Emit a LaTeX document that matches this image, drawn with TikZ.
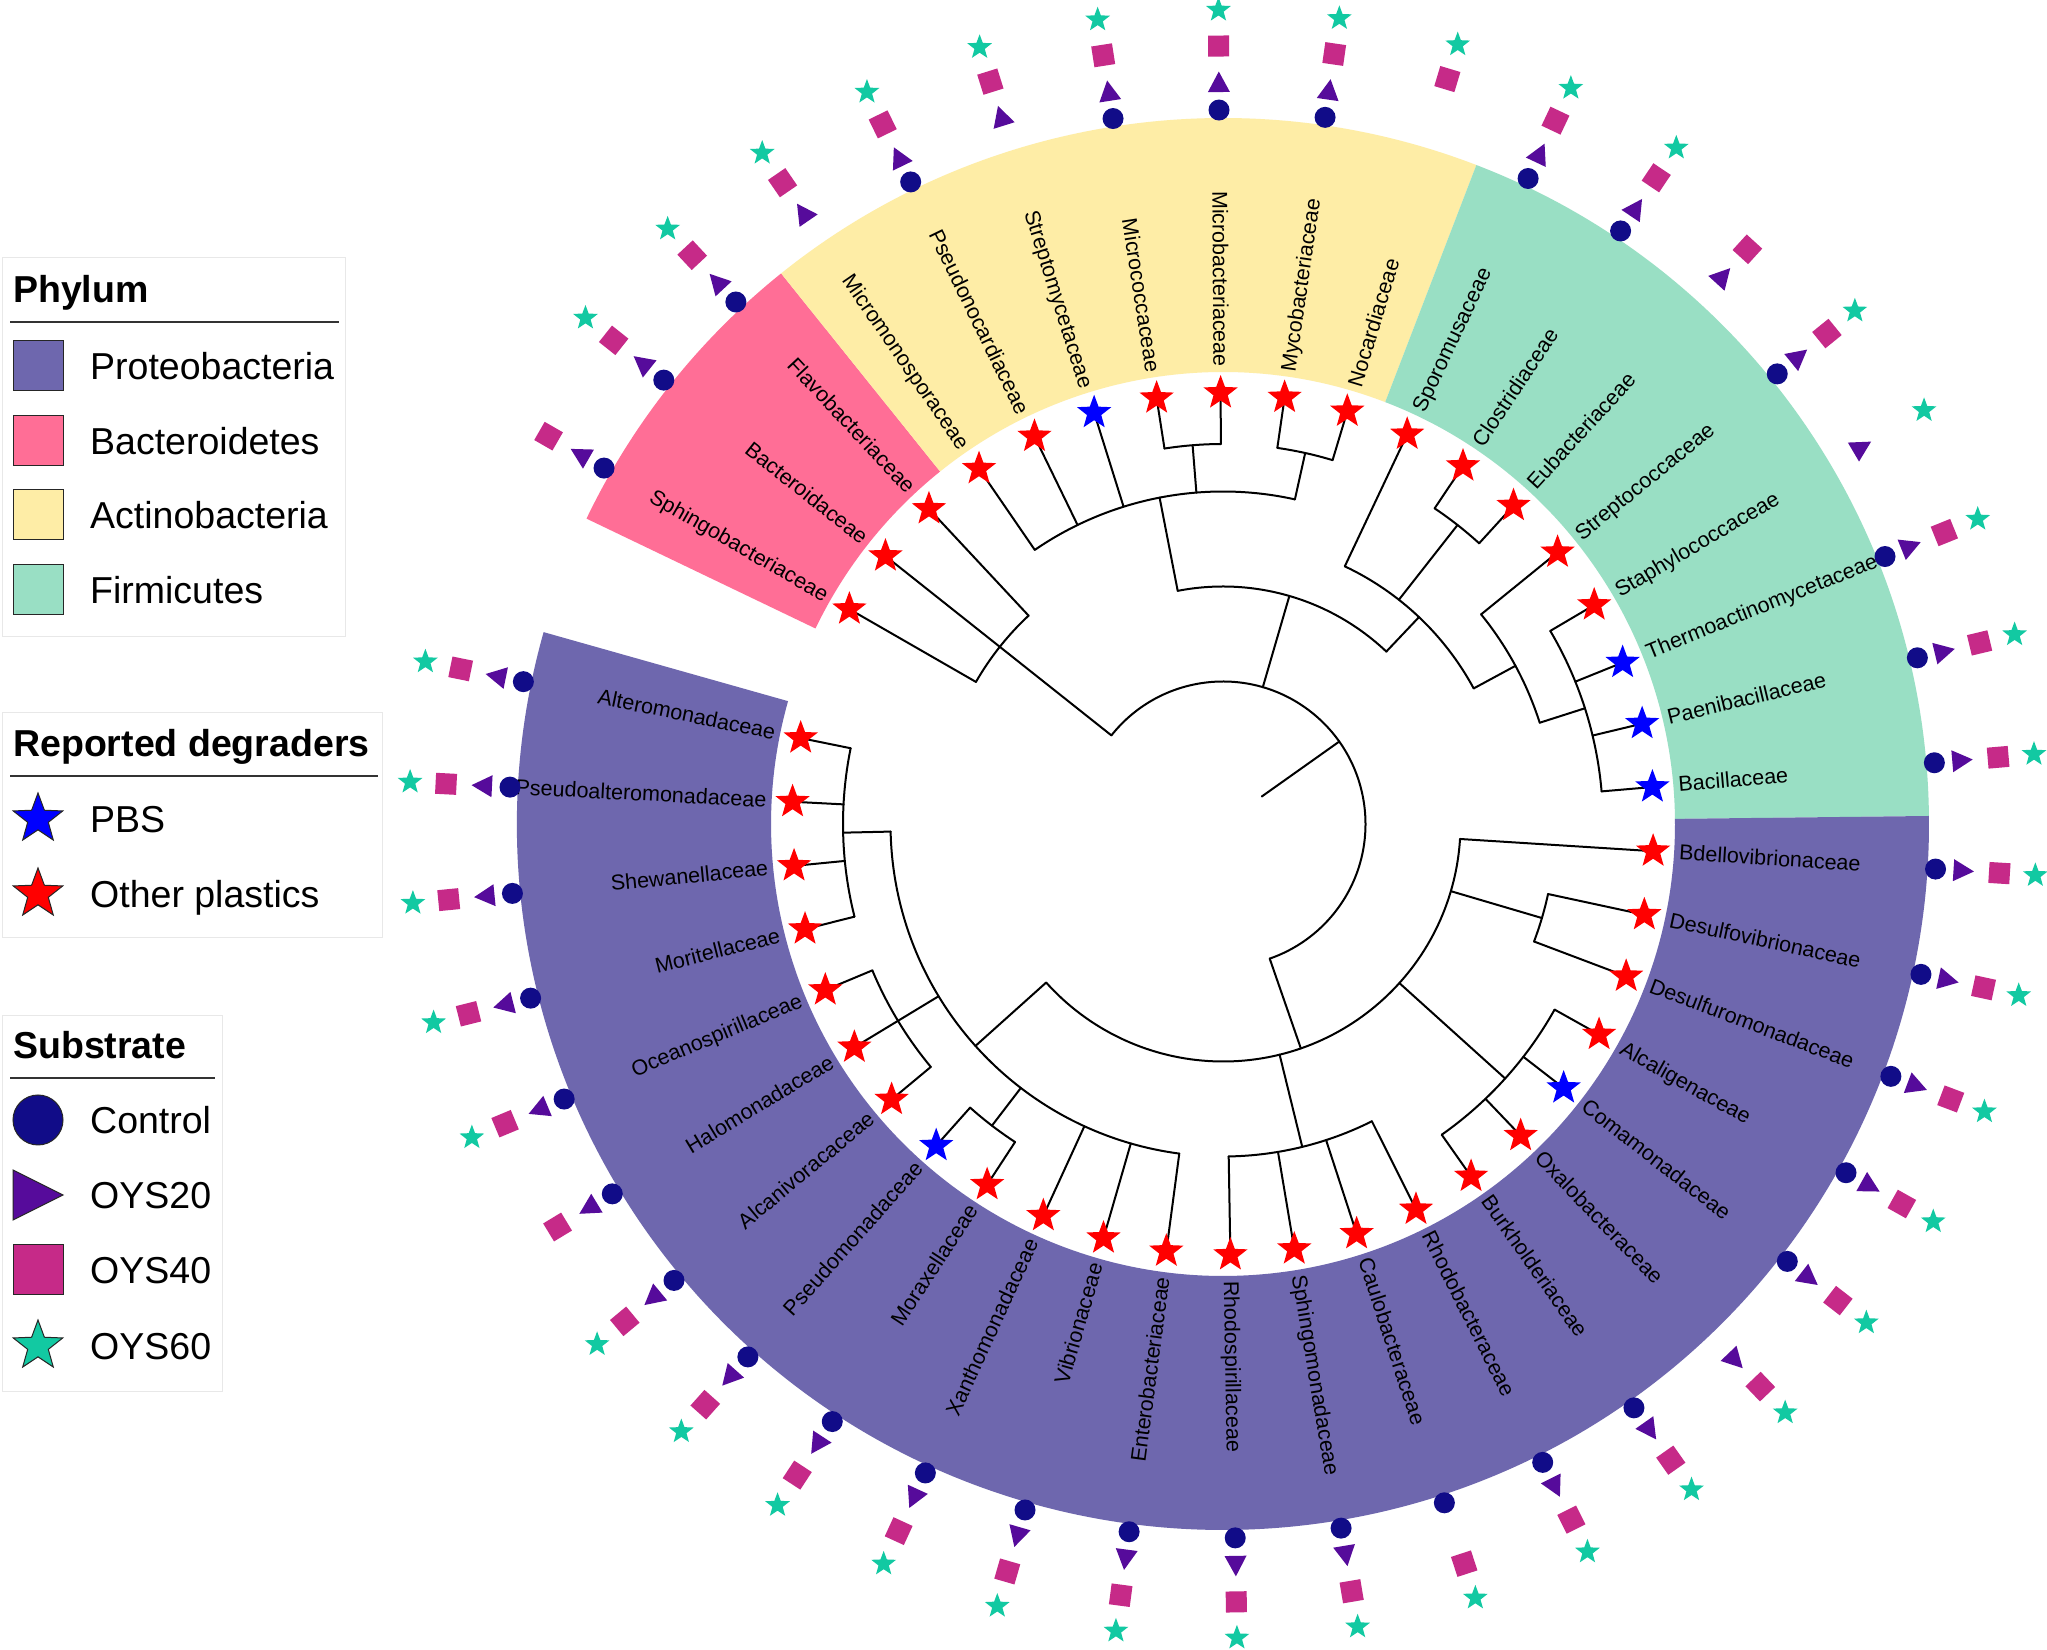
\documentclass[tikz,border=0pt]{standalone}
\usepackage{fontspec}
\setmainfont{Liberation Sans}
\usetikzlibrary{shapes.geometric}
\definecolor{proteo}{HTML}{6E67AE}
\definecolor{bactero}{HTML}{FF6E96}
\definecolor{actino}{HTML}{FEEDA6}
\definecolor{firmi}{HTML}{99DFC4}
\definecolor{cctrl}{HTML}{110C88}
\definecolor{cyss}{HTML}{560B9B}
\definecolor{cysf}{HTML}{C62A88}
\definecolor{cysx}{HTML}{12C9A2}
\definecolor{pbs}{HTML}{0000FF}
\definecolor{oth}{HTML}{FF0000}
\newcommand\TA[1]{(150.1-8.54*(#1))}
\newcommand\trad[3]{\draw[treeline] ({\TA{#1}}:#2) -- ({\TA{#1}}:#3);}
\newcommand\tarc[3]{\draw[treeline] ({\TA{#1}}:#3) arc[start angle={\TA{#1}}, end angle={\TA{#2}}, radius=#3];}
\newcommand\phsector[3]{\fill[#1] ({\TA{#2}}:452) arc[start angle={\TA{#2}}, end angle={\TA{#3}}, radius=452] -- ({\TA{#3}}:706) arc[start angle={\TA{#3}}, end angle={\TA{#2}}, radius=706] -- cycle;}
\begin{document}
\begin{tikzpicture}[x=1pt,y=1pt,
  treeline/.style={line width=2, black, line cap=round},
  lab/.style={font=\fontsize{21.5}{26}\selectfont, inner sep=0, text height=14, text depth=0},
  legtxt/.style={font=\fontsize{37.5}{45}\selectfont, anchor=base west, inner sep=0},
  legtitle/.style={font=\fontsize{37.5}{45}\selectfont\bfseries, anchor=base west, inner sep=0},
  legbox/.style={draw=black!9, line width=1},
  legline/.style={draw=black!80, line width=1.5},
  legicon/.style={draw=black!85, line width=1},
  leafstar/.style={star, star points=5, star point ratio=2.4, inner sep=0, minimum size=36},
  ringstar/.style={star, star points=5, star point ratio=2.4, inner sep=0, minimum size=26, fill=cysx},
]
\fill[white] (0,0) rectangle (2047,1649);
\useasboundingbox (0,0) rectangle (2047,1649);

% ---------------- legend ----------------
\draw[legbox] (2.6,1012) rectangle (345,1391);
\node[legtitle] (tphy) at (13,1346.6) {Phylum};
\draw[legline] (10,1327) -- (339,1327);
\draw[legicon, fill=proteo] (13,1258) rectangle (63,1308);
\node[legtxt] (lp1) at (90,1269.6) {Proteobacteria};
\draw[legicon, fill=bactero] (13,1183) rectangle (63,1233);
\node[legtxt] (lp2) at (90,1194.6) {Bacteroidetes};
\draw[legicon, fill=actino] (13,1109) rectangle (63,1159);
\node[legtxt] (lp3) at (90,1120.6) {Actinobacteria};
\draw[legicon, fill=firmi] (13,1034) rectangle (63,1084);
\node[legtxt] (lp4) at (90,1045.6) {Firmicutes};

\draw[legbox] (2.6,711) rectangle (382.5,936);
\node[legtitle] (tdeg) at (13,892.6) {Reported degraders};
\draw[legline] (10,873) -- (378,873);
\node[star, star points=5, star point ratio=2.4, inner sep=0, minimum size=52, fill=pbs, legicon] (ipbs) at (38,830) {};
\node[legtxt] (lpbs) at (90,816.6) {PBS};
\node[star, star points=5, star point ratio=2.4, inner sep=0, minimum size=52, fill=oth, legicon] (ioth) at (38,755) {};
\node[legtxt] (loth) at (90,741.6) {Other plastics};

\draw[legbox] (2.6,257) rectangle (222,633);
\node[legtitle] (tsub) at (13,590.6) {Substrate};
\draw[legline] (10,571) -- (215,571);
\draw[legicon, fill=cctrl] (38,529) circle[radius=25];
\node[legtxt] (lc) at (90,515.6) {Control};
\draw[legicon, fill=cyss] (13,479) -- (63,454) -- (13,429) -- cycle;
\node[legtxt] (l20) at (90,440.6) {OYS20};
\draw[legicon, fill=cysf] (13,354) rectangle (63,404);
\node[legtxt] (l40) at (90,365.6) {OYS40};
\node[star, star points=5, star point ratio=2.4, inner sep=0, minimum size=52, fill=cysx, legicon] (i60) at (38,303) {};
\node[legtxt] (l60) at (90,289.6) {OYS60};

% ---------------- circular tree ----------------
\begin{scope}[shift={(1223,825)}]
\phsector{bactero}{-0.5}{2.5}
\phsector{actino}{2.5}{9.5}
\phsector{firmi}{9.5}{17.5}
\phsector{proteo}{17.5}{40.5}

% root
\trad{13.4375}{47.5}{142.5}
\tarc{1}{25.875}{142.5}
% Bacteroidetes
\trad{1}{142.5}{431}
\tarc{0}{2}{285}
\trad{0}{285}{431}
\trad{2}{285}{431}
% Actinobacteria + Firmicutes
\trad{8.9375}{142.5}{237.5}
\tarc{5.75}{12.125}{237.5}
\trad{5.75}{237.5}{332.5}
\tarc{3}{8.5}{332.5}
\trad{3}{332.5}{431}
\trad{4}{332.5}{431}
\trad{5}{332.5}{431}
\trad{6.5}{332.5}{380}
\tarc{6}{7}{380}
\trad{6}{380}{431}
\trad{7}{380}{431}
\trad{8.5}{332.5}{380}
\tarc{8}{9}{380}
\trad{8}{380}{431}
\trad{9}{380}{431}
\trad{12.125}{237.5}{285}
\tarc{10}{14.25}{285}
\trad{10}{285}{431}
\trad{11.5}{285}{380}
\tarc{11}{12}{380}
\trad{11}{380}{431}
\trad{12}{380}{431}
\trad{14.25}{285}{332.5}
\tarc{13}{15.5}{332.5}
\trad{13}{332.5}{431}
\trad{15.5}{332.5}{380}
\tarc{14}{17}{380}
\foreach \k in {14,15,16,17} {\trad{\k}{380}{431}}
% Proteobacteria
\trad{25.875}{142.5}{237.5}
\tarc{18}{33.75}{237.5}
\trad{18}{237.5}{431}
\trad{19.5}{237.5}{332.5}
\tarc{19}{20}{332.5}
\trad{19}{332.5}{431}
\trad{20}{332.5}{431}
\trad{22.5}{237.5}{380}
\tarc{21}{24}{380}
\foreach \k in {21,22,23,24} {\trad{\k}{380}{431}}
\trad{26.5}{237.5}{332.5}
\tarc{25}{28}{332.5}
\foreach \k in {25,26,27,28} {\trad{\k}{332.5}{431}}
\trad{33.75}{237.5}{332.5}
\tarc{29}{38.5}{332.5}
\foreach \k in {29,30,31} {\trad{\k}{332.5}{431}}
\trad{32.5}{332.5}{380}
\tarc{32}{33}{380}
\trad{32}{380}{431}
\trad{33}{380}{431}
\trad{35}{332.5}{431}
\tarc{34}{36}{380}
\trad{34}{380}{431}
\trad{36}{380}{431}
\trad{38.5}{332.5}{380}
\tarc{37}{40}{380}
\foreach \k in {37,38,39,40} {\trad{\k}{380}{431}}

% leaf stars
\foreach \i/\col in {0/oth,1/oth,2/oth,3/oth,4/oth,5/pbs,6/oth,7/oth,8/oth,9/oth,10/oth,11/oth,12/oth,13/oth,14/oth,15/pbs,16/pbs,17/pbs,18/oth,19/oth,20/oth,21/oth,22/pbs,23/oth,24/oth,25/oth,26/oth,27/oth,28/oth,29/oth,30/oth,31/oth,32/oth,33/pbs,34/oth,35/oth,36/oth,37/oth,38/oth,39/oth,40/oth} {
  \pgfmathsetmacro\a{150.1-8.54*\i}
  \node[leafstar, fill=\col] (s\i) at (\a:431) {};
}

% labels
\foreach \i/\nm in {0/Sphingobacteriaceae,1/Bacteroidaceae,2/Flavobacteriaceae,3/Micromonosporaceae,4/Pseudonocardiaceae,5/Streptomycetaceae,6/Micrococcaceae,7/Microbacteriaceae,8/Mycobacteriaceae,9/Nocardiaceae,10/Sporomusaceae,11/Clostridiaceae,12/Eubacteriaceae,13/Streptococcaceae,14/Staphylococcaceae,15/Thermoactinomycetaceae,16/Paenibacillaceae,17/Bacillaceae,18/Bdellovibrionaceae,19/Desulfovibrionaceae,20/Desulfuromonadaceae,21/Alcaligenaceae,22/Comamonadaceae,23/Oxalobacteraceae,24/Burkholderiaceae,25/Rhodobacteraceae,26/Caulobacteraceae,27/Sphingomonadaceae,28/Rhodospirillaceae,29/Enterobacteriaceae,30/Vibrionaceae,31/Xanthomonadaceae,32/Moraxellaceae,33/Pseudomonadaceae,34/Alcanivoracaceae,35/Halomonadaceae,36/Oceanospirillaceae,37/Moritellaceae,38/Shewanellaceae,39/Pseudoalteromonadaceae,40/Alteromonadaceae} {
  \pgfmathsetmacro\a{150.1-8.54*\i}
  \pgfmathtruncatemacro\rt{(\a<90)*(\a>-90)}
  \ifnum\rt=1
    \node[lab, anchor=west, rotate=\a] (l\i) at (\a:457) {\nm};
  \else
    \node[lab, anchor=east, rotate=\a+180] (l\i) at (\a:457) {\nm};
  \fi
}

% substrate markers
\foreach \i/\mc/\mt/\ms/\mst in {0/1/1/1/0,1/1/1/1/1,2/1/1/1/1,3/0/1/1/1,4/1/1/1/1,5/0/1/1/1,6/1/1/1/1,7/1/1/1/1,8/1/1/1/1,9/0/0/1/1,10/1/1/1/1,11/1/1/1/1,12/0/1/1/0,13/1/1/1/1,14/0/1/0/1,15/1/1/1/1,16/1/1/1/1,17/1/1/1/1,18/1/1/1/1,19/1/1/1/1,20/1/1/1/1,21/1/1/1/1,22/1/1/1/1,23/0/1/1/1,24/1/1/1/1,25/1/1/1/1,26/1/0/1/1,27/1/1/1/1,28/1/1/1/1,29/1/1/1/1,30/1/1/1/1,31/1/1/1/1,32/1/1/1/1,33/1/1/1/1,34/1/1/1/1,35/1/1/1/0,36/1/1/1/1,37/1/1/1/1,38/1/1/1/1,39/1/1/1/1,40/1/1/1/1} {
  \pgfmathsetmacro\a{150.1-8.54*\i}
  \ifnum\mc=1 \fill[cctrl] (\a:714) circle[radius=10.5]; \fi
  \ifnum\mt=1 \fill[cyss, shift={(\a:741)}, rotate=\a] (11.5,0) -- (-9,11) -- (-9,-11) -- cycle; \fi
  \ifnum\ms=1 \fill[cysf, shift={(\a:778)}, rotate=\a] (-10.5,-10.5) rectangle (10.5,10.5); \fi
  \ifnum\mst=1 \node[ringstar] at (\a:814) {}; \fi
}
\end{scope}
\end{tikzpicture}
\end{document}
